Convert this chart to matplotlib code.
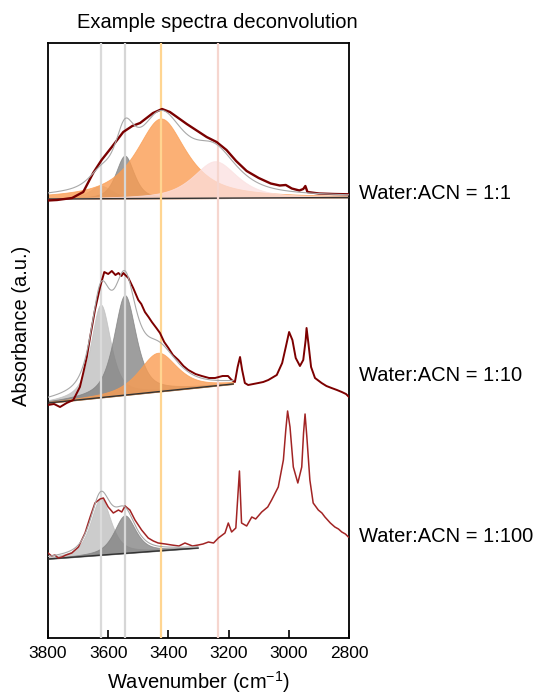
import numpy as np
import matplotlib
matplotlib.use("Agg")
import matplotlib.pyplot as plt

plt.rcParams['font.family'] = ['Liberation Sans', 'DejaVu Sans']
plt.rcParams['mathtext.default'] = 'regular'

# measured spectra (wavenumber, absorbance above own offset)
top_wn = [3800, 3770, 3720, 3683, 3650, 3622, 3588, 3550, 3520, 3494, 3451, 3421, 3395,
          3339, 3273, 3240, 3207, 3175, 3140, 3100, 3060, 3030, 3010, 2990, 2965, 2952,
          2945, 2938, 2900, 2850, 2800]
top_abs = [-0.015, -0.01, 0.01, 0.07, 0.26, 0.39, 0.52, 0.67, 0.73, 0.76, 0.86, 0.90, 0.87,
           0.75, 0.62, 0.57, 0.49, 0.38, 0.28, 0.21, 0.155, 0.135, 0.14, 0.105, 0.085, 0.10,
           0.13, 0.07, 0.055, 0.05, 0.047]

mid_wn = [3800, 3780, 3760, 3738, 3716, 3694, 3683, 3671, 3660, 3644, 3627, 3613, 3600,
          3588, 3576, 3566, 3556, 3550, 3533, 3517, 3500, 3490, 3478, 3466, 3455, 3440,
          3428, 3414, 3400, 3385, 3367, 3350, 3334, 3310, 3289, 3265, 3245, 3220, 3202,
          3190, 3179, 3170, 3162, 3155, 3146, 3135, 3118, 3101, 3085, 3068, 3040, 3022,
          3010, 2999, 2988, 2977, 2963, 2952, 2944, 2941, 2935, 2926, 2913, 2891, 2875,
          2858, 2840, 2824, 2810, 2800]
mid_abs = [-0.02, -0.01, -0.04, 0.00, 0.03, 0.16, 0.30, 0.46, 0.66, 0.93, 1.16, 1.31, 1.29,
           1.32, 1.28, 1.30, 1.27, 1.30, 1.25, 1.15, 1.03, 0.99, 0.91, 0.86, 0.81, 0.75,
           0.70, 0.61, 0.55, 0.48, 0.43, 0.37, 0.33, 0.29, 0.27, 0.25, 0.25, 0.27, 0.27,
           0.23, 0.21, 0.36, 0.46, 0.33, 0.20, 0.18, 0.19, 0.20, 0.21, 0.23, 0.28, 0.40,
           0.56, 0.71, 0.63, 0.45, 0.37, 0.43, 0.63, 0.75, 0.60, 0.36, 0.25, 0.20, 0.17,
           0.15, 0.13, 0.11, 0.09, 0.06]

low_wn = [3800, 3788, 3777, 3766, 3754, 3740, 3721, 3699, 3677, 3660, 3644, 3627, 3616,
          3600, 3583, 3566, 3555, 3544, 3528, 3511, 3489, 3467, 3450, 3434, 3410, 3389,
          3365, 3345, 3320, 3301, 3285, 3267, 3250, 3234, 3212, 3201, 3190, 3176, 3164,
          3157, 3140, 3123, 3110, 3090, 3070, 3057, 3035, 3018, 3010, 3004, 2996, 2985,
          2970, 2957, 2951, 2946, 2940, 2930, 2919, 2902, 2890, 2880, 2862, 2847, 2835,
          2824, 2812, 2802]
low_abs = [0.06, 0.03, 0.04, 0.01, 0.02, 0.04, 0.06, 0.12, 0.26, 0.42, 0.56, 0.60, 0.61,
           0.52, 0.46, 0.49, 0.47, 0.53, 0.49, 0.39, 0.29, 0.21, 0.18, 0.16, 0.15, 0.14,
           0.13, 0.16, 0.13, 0.14, 0.15, 0.17, 0.16, 0.21, 0.26, 0.36, 0.27, 0.31, 0.88,
           0.36, 0.33, 0.42, 0.40, 0.47, 0.52, 0.59, 0.72, 0.99, 1.29, 1.48, 1.32, 0.92,
           0.76, 0.92, 1.26, 1.45, 1.22, 0.79, 0.56, 0.49, 0.46, 0.42, 0.36, 0.32, 0.30,
           0.27, 0.25, 0.22]

offsets = [4.39, 2.35, 0.79]
labels = ["Water:ACN = 1:1", "Water:ACN = 1:10", "Water:ACN = 1:100"]

# fitted components: centre, height, fwhm, lorentzian fraction
top_peaks = [(3625, 0.13, 90, 0.6), (3545, 0.43, 72, 0.6),
             (3425, 0.80, 200, 0.85), (3245, 0.37, 175, 0.7)]
mid_peaks = [(3625, 0.93, 78, 0.65), (3545, 1.00, 88, 0.65), (3435, 0.39, 150, 0.65)]
low_peaks = [(3625, 0.57, 80, 0.65), (3545, 0.38, 85, 0.65)]

# linear baselines: (start wn, start abs, end wn, end abs)
top_base = (3800, 0.0, 2800, 0.015)
mid_base = (3800, 0.0, 3185, 0.19)
low_base = (3800, 0.0, 3302, 0.11)

band_pos = [3625, 3545, 3425, 3235]
band_col = ['#dadada', '#d6d6d6', '#ffd591', '#f6d6cf']
peak_col = {3625: '#bcbcbc', 3545: '#7e7e7e', 3425: '#fb9d52', 3435: '#fb9d52', 3245: '#fbe0e0'}
peak_alpha = {3625: 0.75, 3545: 0.75, 3425: 0.8, 3435: 0.8, 3245: 0.75}
line_col = ['#7a0000', '#7d0000', '#a22424']
line_w = [1.7, 1.4, 1.1]


def pvoigt(x, c, h, w, eta):
    g = np.exp(-4 * np.log(2) * ((x - c) / w) ** 2)
    l = 1 / (1 + 4 * ((x - c) / w) ** 2)
    return h * (eta * l + (1 - eta) * g)


fig = plt.figure(figsize=(5.4, 6.96), dpi=100)
ax = fig.add_axes([48 / 540, 58 / 696, 301 / 540, 595 / 696])

sets = [(top_wn, top_abs, top_peaks, top_base),
        (mid_wn, mid_abs, mid_peaks, mid_base),
        (low_wn, low_abs, low_peaks, low_base)]

for i, (wn, ab, peaks, base) in enumerate(sets):
    off = offsets[i]
    x = np.linspace(base[0], base[2], 500)
    b = off + np.interp(x, [base[2], base[0]], [base[3], base[1]])
    total = b.copy()
    for c, h, w, eta in peaks:
        y = pvoigt(x, c, h, w, eta)
        total += y
        ax.fill_between(x, b, b + y, color=peak_col[c], alpha=peak_alpha[c], lw=0.6,
                        edgecolor=peak_col[c], zorder=2)
    ax.plot(x, b, color='#333333', lw=1.0, zorder=3)
    ax.plot(wn, np.array(ab) + off, color=line_col[i], lw=line_w[i], zorder=5)
    ax.plot(x, total, color='#a8a8a8', lw=0.8, zorder=6)

for p, c in zip(band_pos, band_col):
    ax.axvline(p, color=c, lw=1.6, zorder=4)

ax.set_xlim(3800, 2800)
ax.set_ylim(0, 5.95)
ax.set_xticks([3800, 3600, 3400, 3200, 3000, 2800])
ax.set_yticks([])
ax.tick_params(axis='x', direction='in', length=6, width=1.2, labelsize=12.5, pad=6, top=False)
for s in ax.spines.values():
    s.set_linewidth(1.3)

fig.text(217 / 540, 1 - 23 / 696, "Example spectra deconvolution", fontsize=14.5,
         ha='center', va='center')
fig.text(198 / 540, 1 - 682 / 696, "Wavenumber (cm$^{-1}$)", fontsize=14.5,
         ha='center', va='center')
fig.text(22 / 540, 1 - 326 / 696, "Absorbance (a.u.)", fontsize=14.5, rotation=90,
         ha='center', va='center')

for lab, yp in zip(labels, [193, 375, 537]):
    fig.text(359 / 540, 1 - yp / 696, lab, fontsize=14.5, ha='left', va='center')

fig.savefig("out.png", dpi=100)
